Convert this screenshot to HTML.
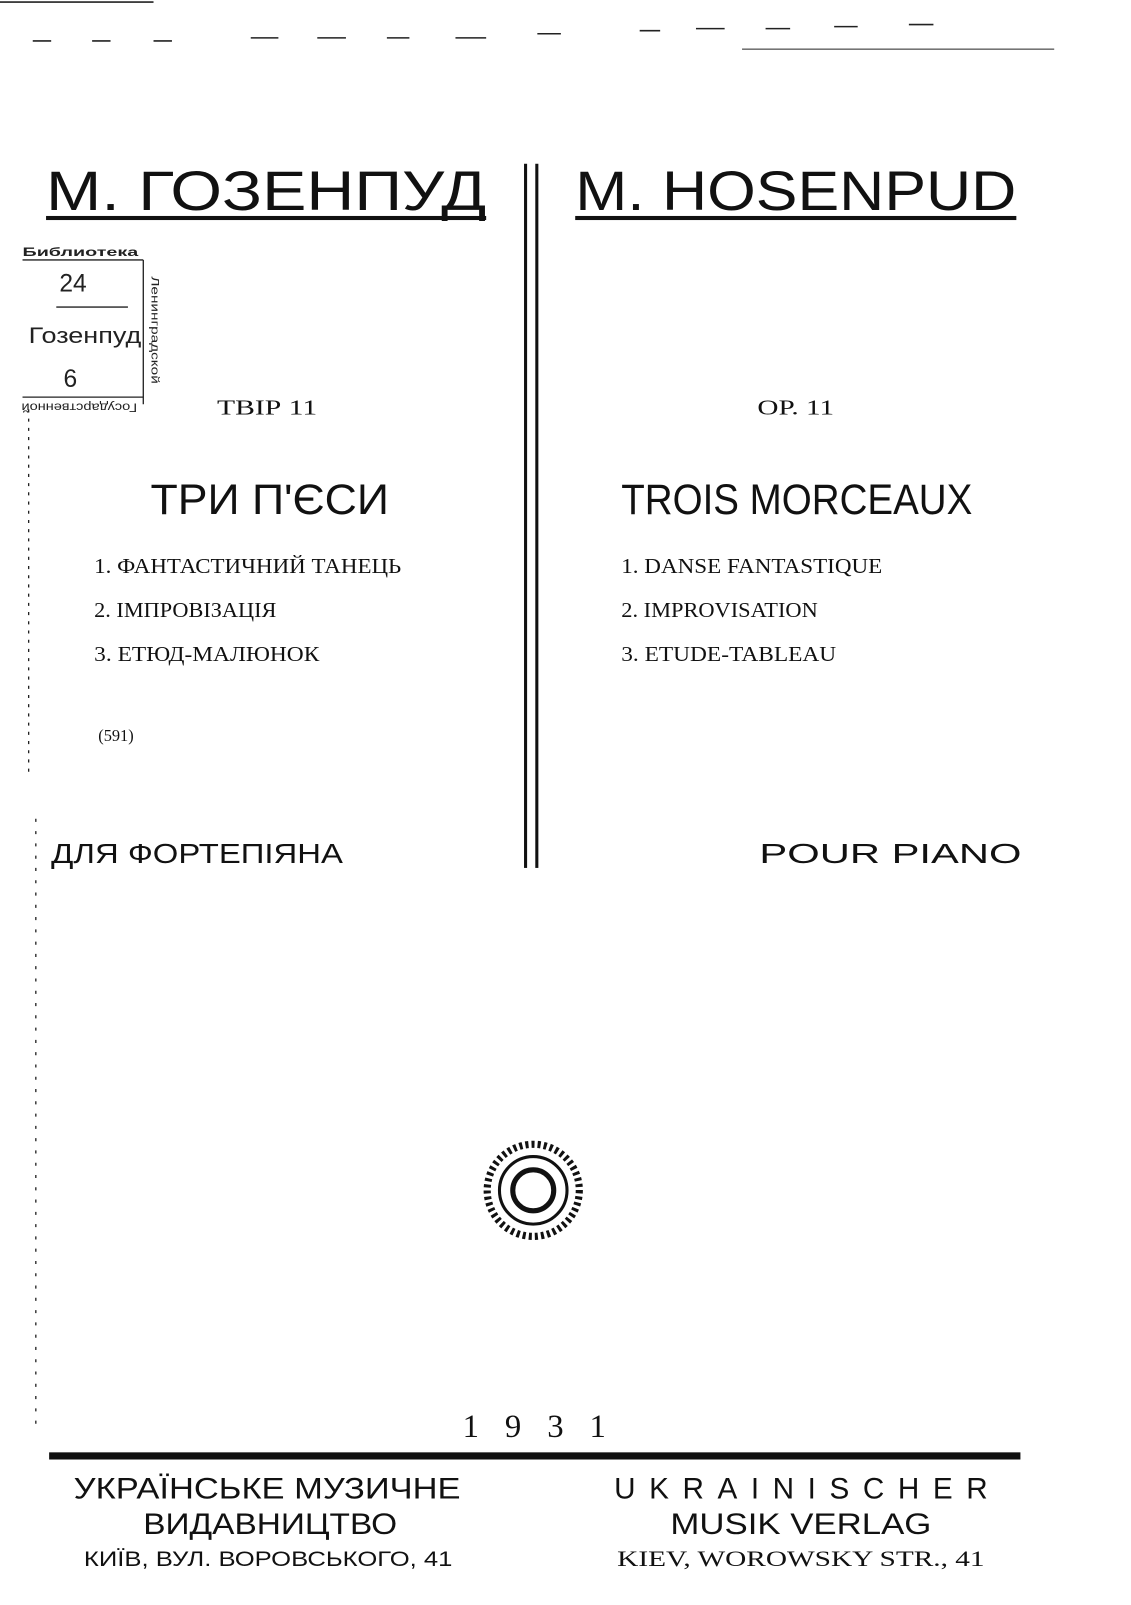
<!DOCTYPE html>
<html><head><meta charset="utf-8"><style>html,body{margin:0;padding:0;background:#fff}</style></head>
<body>
<svg width="1131" height="1600" viewBox="0 0 1131 1600" xmlns="http://www.w3.org/2000/svg">
<rect width="1131" height="1600" fill="#fff"/>
<g transform="scale(1.0235)">
<g stroke="#222" stroke-width="1.5">
<line x1="0" y1="2" x2="150" y2="2"/>
<line x1="32" y1="40" x2="50" y2="40"/><line x1="90" y1="40" x2="108" y2="40"/><line x1="150" y1="40" x2="168" y2="40"/>
<line x1="245" y1="37" x2="272" y2="37"/><line x1="310" y1="37" x2="338" y2="37"/><line x1="378" y1="37" x2="400" y2="37"/>
<line x1="445" y1="37" x2="475" y2="37"/><line x1="525" y1="33" x2="548" y2="33"/><line x1="625" y1="30" x2="645" y2="30"/>
<line x1="680" y1="28" x2="708" y2="28"/><line x1="748" y1="28" x2="772" y2="28"/><line x1="815" y1="26" x2="838" y2="26"/>
<line x1="888" y1="24" x2="912" y2="24"/><line x1="725" y1="48" x2="1030" y2="48" stroke-width="1"/>
</g>
<g font-family="Liberation Sans, sans-serif" fill="#111">
<text x="45" y="205" font-size="54" textLength="430" lengthAdjust="spacingAndGlyphs">М. ГОЗЕНПУД</text>
<text x="562" y="205" font-size="54" textLength="431" lengthAdjust="spacingAndGlyphs">M. HOSENPUD</text>
</g>
<rect x="45" y="211" width="430" height="4" fill="#111"/>
<rect x="562" y="211" width="431" height="4" fill="#111"/>
<rect x="512" y="160" width="3" height="688" fill="#111"/>
<rect x="523" y="160" width="3" height="688" fill="#111"/>
<g font-family="Liberation Sans, sans-serif" fill="#222">
<text x="22" y="250" font-size="12" textLength="113" lengthAdjust="spacingAndGlyphs" font-weight="bold">Библиотека</text>
<text x="58" y="285" font-size="24">24</text>
<text x="28" y="335" font-size="22" textLength="110" lengthAdjust="spacingAndGlyphs">Гозенпуд</text>
<text x="62" y="378" font-size="24">6</text>
<text x="22" y="402" font-size="12" textLength="113" lengthAdjust="spacingAndGlyphs" transform="rotate(180 78 398)">Государственной</text>
<text x="148" y="270" font-size="11" transform="rotate(90 148 270)" textLength="105" lengthAdjust="spacingAndGlyphs">Ленинградской</text>
</g>
<g stroke="#222" stroke-width="1.3" fill="none">
<line x1="22" y1="254" x2="140" y2="254"/><line x1="140" y1="254" x2="140" y2="395"/>
<line x1="55" y1="300" x2="125" y2="300"/><line x1="22" y1="388" x2="140" y2="388"/>
<line x1="28" y1="400" x2="28" y2="760" stroke-dasharray="3 6"/>
<line x1="35" y1="800" x2="35" y2="1400" stroke-dasharray="3 9"/>
</g>
<g font-family="Liberation Serif, serif" fill="#111">
<text x="212" y="405" font-size="21" textLength="98" lengthAdjust="spacingAndGlyphs">ТВІР 11</text>
<text x="740" y="405" font-size="21" textLength="75" lengthAdjust="spacingAndGlyphs">OP. 11</text>
</g>
<g font-family="Liberation Sans, sans-serif" fill="#111">
<text x="147" y="502" font-size="42" textLength="233" lengthAdjust="spacingAndGlyphs">ТРИ П'ЄСИ</text>
<text x="607" y="502" font-size="42" textLength="343" lengthAdjust="spacingAndGlyphs">TROIS MORCEAUX</text>
</g>
<g font-family="Liberation Serif, serif" fill="#111" font-size="21">
<text x="92" y="560" textLength="300" lengthAdjust="spacingAndGlyphs">1. ФАНТАСТИЧНИЙ ТАНЕЦЬ</text>
<text x="92" y="603" textLength="178" lengthAdjust="spacingAndGlyphs">2. ІМПРОВІЗАЦІЯ</text>
<text x="92" y="646" textLength="220" lengthAdjust="spacingAndGlyphs">3. ЕТЮД-МАЛЮНОК</text>
<text x="607" y="560" textLength="255" lengthAdjust="spacingAndGlyphs">1. DANSE FANTASTIQUE</text>
<text x="607" y="603" textLength="192" lengthAdjust="spacingAndGlyphs">2. IMPROVISATION</text>
<text x="607" y="646" textLength="210" lengthAdjust="spacingAndGlyphs">3. ETUDE-TABLEAU</text>
<text x="96" y="724" font-size="16">(591)</text>
</g>
<g font-family="Liberation Sans, sans-serif" fill="#111">
<text x="50" y="843" font-size="27" textLength="285" lengthAdjust="spacingAndGlyphs">ДЛЯ ФОРТЕПІЯНА</text>
<text x="742" y="843" font-size="27" textLength="256" lengthAdjust="spacingAndGlyphs">POUR PIANO</text>
</g>
<g fill="none" stroke="#111">
<circle cx="521" cy="1163" r="45" stroke-width="7" stroke-dasharray="3 3"/>
<circle cx="521" cy="1163" r="33" stroke-width="3"/>
<circle cx="521" cy="1163" r="20" stroke-width="5"/>
</g>
<text x="452" y="1404" font-family="Liberation Serif, serif" font-size="32" textLength="140" lengthAdjust="spacing" fill="#111">1931</text>
<rect x="48" y="1419" width="949" height="7" fill="#111"/>
<g font-family="Liberation Sans, sans-serif" fill="#111">
<text x="72" y="1464" font-size="29" textLength="378" lengthAdjust="spacingAndGlyphs">УКРАЇНСЬКЕ МУЗИЧНЕ</text>
<text x="140" y="1499" font-size="29" textLength="248" lengthAdjust="spacingAndGlyphs">ВИДАВНИЦТВО</text>
<text x="600" y="1464" font-size="29" textLength="365" lengthAdjust="spacing">UKRAINISCHER</text>
<text x="655" y="1499" font-size="29" textLength="255" lengthAdjust="spacingAndGlyphs">MUSIK VERLAG</text>
<text x="82" y="1530" font-size="21" textLength="360" lengthAdjust="spacingAndGlyphs">КИЇВ, ВУЛ. ВОРОВСЬКОГО, 41</text>
</g>
<text x="603" y="1530" font-family="Liberation Serif, serif" font-size="22" textLength="359" lengthAdjust="spacingAndGlyphs" fill="#111">KIEV, WOROWSKY STR., 41</text>
</g>
</svg>
</body></html>
